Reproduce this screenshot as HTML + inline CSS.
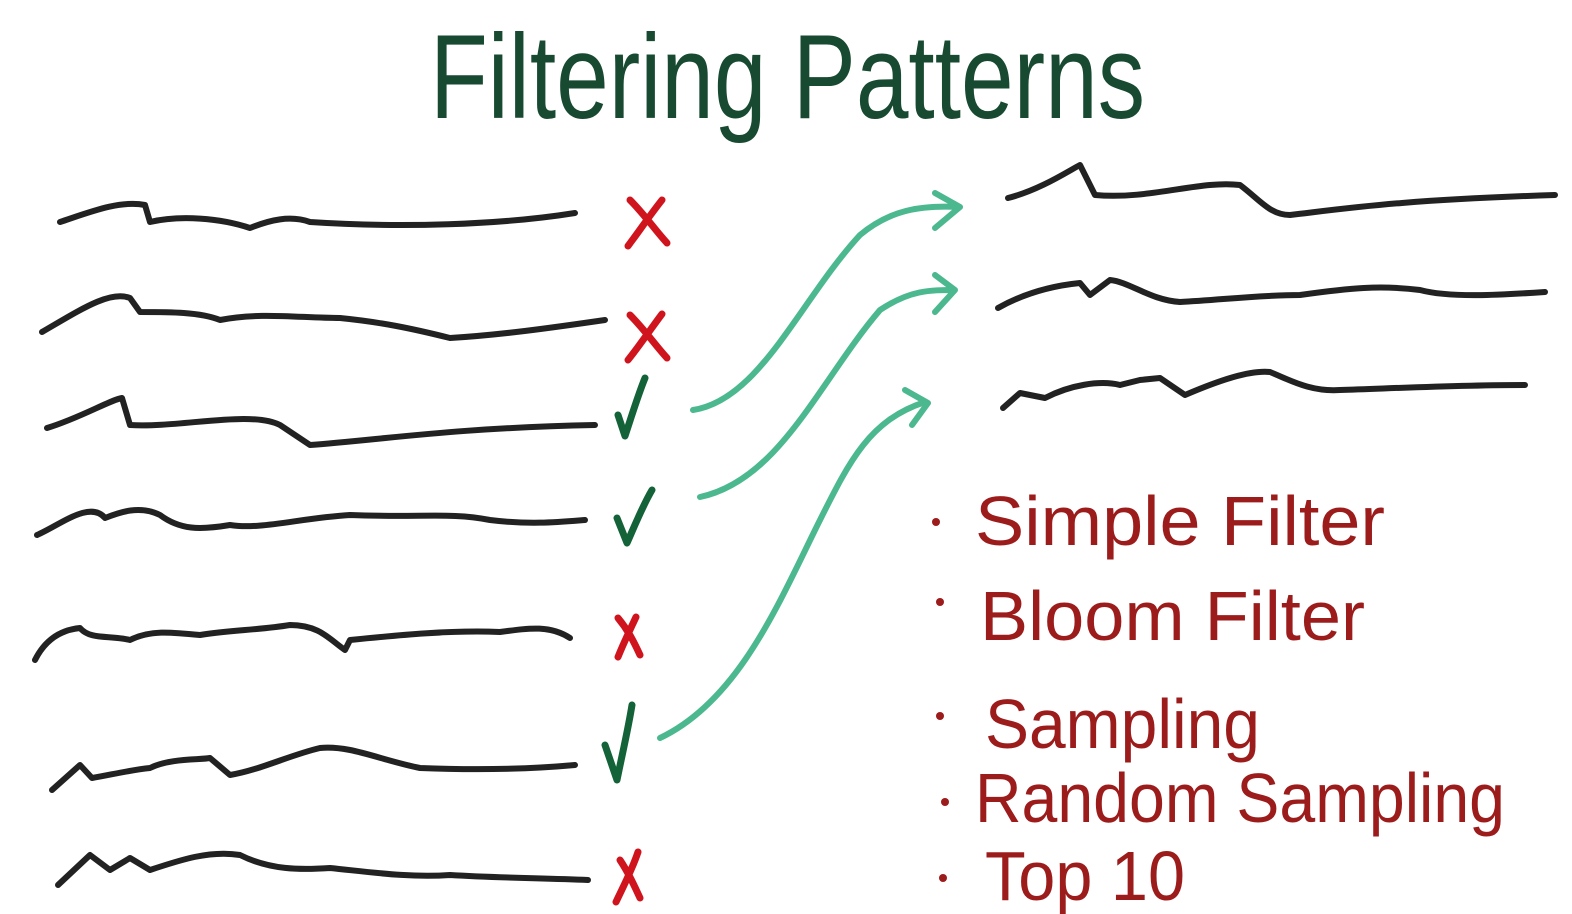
<!DOCTYPE html>
<html><head><meta charset="utf-8"><style>
html,body{margin:0;padding:0;background:#fff;}
svg{display:block;}
</style></head><body>
<svg width="1572" height="914" viewBox="0 0 1572 914" xmlns="http://www.w3.org/2000/svg">
<rect width="1572" height="914" fill="#fff"/>
<text x="430" y="118" font-family="Liberation Sans, sans-serif" font-size="120" fill="#174a30" textLength="715" lengthAdjust="spacingAndGlyphs">Filtering Patterns</text>

<g fill="none" stroke="#222" stroke-width="6" stroke-linecap="round" stroke-linejoin="round">
<path d="M60,222 C90,212 120,200 145,205 L150,222 C180,215 220,218 250,228 C270,220 290,215 310,222 C400,228 500,225 575,213"/>
<path d="M42,332 C80,310 110,290 130,298 L140,312 C170,312 200,312 220,320 C260,312 300,318 340,318 C380,322 410,328 450,338 C500,335 550,328 605,320"/>
<path d="M47,428 C80,418 110,400 122,398 L130,425 C180,428 250,410 280,425 L310,445 C380,440 450,428 595,425"/>
<path d="M37,535 C60,525 90,500 105,518 C120,512 140,505 160,515 C180,530 200,530 230,525 C260,530 300,518 350,515 C420,518 450,512 490,520 C530,525 560,522 585,520"/>
<path d="M35,660 C45,640 60,630 80,628 C90,640 110,635 130,640 C150,630 170,632 200,635 C230,630 260,630 290,625 C320,625 330,640 345,650 L350,640 C400,635 450,630 500,632 C530,628 550,625 570,638"/>
<path d="M52,790 L80,765 L92,778 C110,775 130,770 150,768 C170,758 200,760 210,758 L230,775 C260,770 290,755 320,748 C350,745 380,760 420,768 C470,770 520,770 575,765"/>
<path d="M58,885 L90,855 L110,870 L130,858 L150,870 C180,860 210,850 240,855 C270,870 300,870 330,868 C370,872 410,878 450,875 C500,878 540,878 588,880"/>
</g>

<g fill="none" stroke-width="7" stroke-linecap="round" stroke-linejoin="round">
<path stroke="#d0141e" d="M630,200 C645,215 655,230 667,243 M662,200 C650,215 640,230 628,246"/>
<path stroke="#d0141e" d="M630,315 C645,330 655,345 667,358 M662,314 C650,330 640,345 628,360"/>
<path stroke="#136238" d="M618,415 L625,436 C632,415 638,395 645,378"/>
<path stroke="#136238" d="M617,518 L627,543 C635,525 643,505 652,490"/>
<path stroke="#d0141e" d="M618,618 C628,630 634,642 640,655 M636,617 C630,630 624,642 618,657"/>
<path stroke="#136238" d="M605,745 L617,780 C622,755 628,730 632,705"/>
<path stroke="#d0141e" d="M620,860 C628,872 634,885 640,898 M638,852 C632,870 624,885 616,902"/>
</g>

<g fill="none" stroke="#4cb88f" stroke-width="6" stroke-linecap="round" stroke-linejoin="round">
<path d="M693,410 C760,400 800,300 860,235 C890,210 920,205 960,207 M935,193 L960,207 L935,228"/>
<path d="M700,497 C780,480 820,380 880,310 C910,290 930,290 955,290 M935,275 L955,290 L935,312"/>
<path d="M660,738 C740,700 780,600 820,520 C850,460 870,420 925,402 M905,390 L928,403 L912,425"/>
</g>

<g fill="none" stroke="#222" stroke-width="6" stroke-linecap="round" stroke-linejoin="round">
<path d="M1008,198 C1040,190 1070,170 1080,165 L1095,195 C1150,200 1200,180 1240,185 C1260,200 1270,215 1290,215 C1350,208 1400,200 1555,195"/>
<path d="M998,308 C1030,290 1060,285 1080,283 L1090,295 L1110,280 C1130,282 1150,300 1180,302 C1220,300 1260,295 1300,295 C1350,288 1380,285 1420,290 C1450,298 1500,295 1545,292"/>
<path d="M1003,408 L1020,393 L1045,398 C1070,385 1100,380 1120,385 L1140,380 L1160,378 L1185,395 C1220,380 1250,370 1270,372 C1290,380 1310,392 1340,390 C1400,388 1460,385 1525,385"/>
</g>

<g fill="#9c1b1b" font-family="Liberation Sans, sans-serif" font-size="70">
<circle cx="936" cy="522" r="4"/>
<text x="975" y="545" textLength="410" lengthAdjust="spacingAndGlyphs">Simple Filter</text>
<circle cx="940" cy="602" r="4"/>
<text x="980" y="640" textLength="385" lengthAdjust="spacingAndGlyphs">Bloom Filter</text>
<circle cx="940" cy="716" r="4"/>
<text x="985" y="748" textLength="275" lengthAdjust="spacingAndGlyphs">Sampling</text>
<circle cx="945" cy="802" r="4"/>
<text x="975" y="822" textLength="530" lengthAdjust="spacingAndGlyphs">Random Sampling</text>
<circle cx="943" cy="878" r="4"/>
<text x="985" y="900" textLength="200" lengthAdjust="spacingAndGlyphs">Top 10</text>
</g>
</svg>
</body></html>
